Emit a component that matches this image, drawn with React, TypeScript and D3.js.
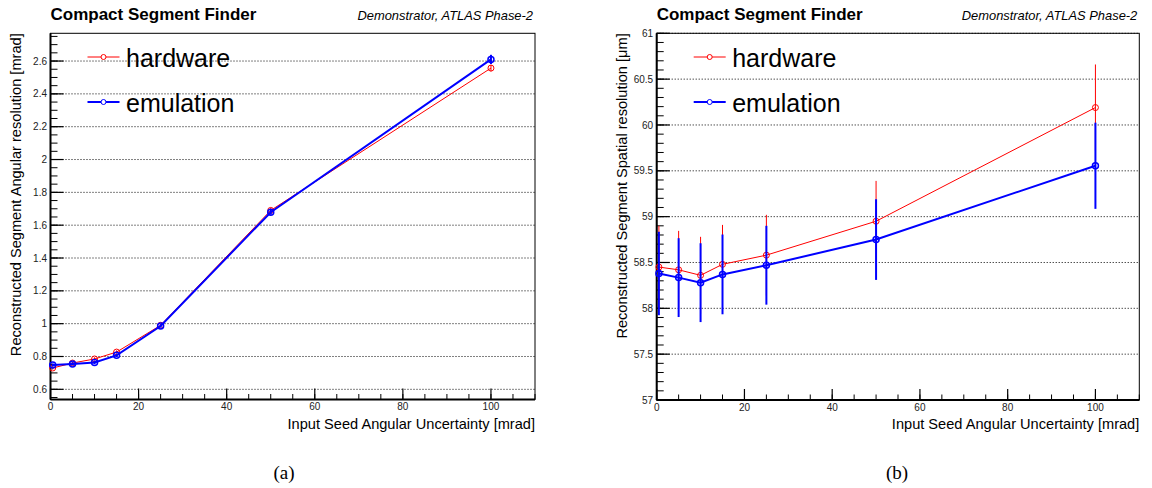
import React from "react";
import * as d3 from "d3";

// ---- data ----
const xValues = [0.5, 5, 10, 15, 25, 50, 100];

const angHardware = [0.73, 0.76, 0.785, 0.827, 0.99, 1.69, 2.557];
const angHardwareErr = [0.01, 0.01, 0.01, 0.01, 0.01, 0.015, 0.02];
const angEmulation = [0.748, 0.755, 0.763, 0.807, 0.986, 1.679, 2.61];
const angEmulationErr = [0.01, 0.01, 0.01, 0.01, 0.01, 0.015, 0.028];

const spaHardware = [58.45, 58.42, 58.36, 58.48, 58.58, 58.95, 60.19];
const spaHardwareErr = [0.45, 0.425, 0.42, 0.43, 0.44, 0.44, 0.47];
const spaEmulation = [58.38, 58.335, 58.28, 58.37, 58.47, 58.75, 59.555];
const spaEmulationErr = [0.455, 0.43, 0.43, 0.435, 0.43, 0.44, 0.47];

const xMajorTicks = [0, 20, 40, 60, 80, 100];
const angYTicks = [0.6, 0.8, 1, 1.2, 1.4, 1.6, 1.8, 2, 2.2, 2.4, 2.6];
const spaYTicks = [57, 57.5, 58, 58.5, 59, 59.5, 60, 60.5, 61];

const seriesNames = ["hardware", "emulation"];
const title = "Compact Segment Finder";
const subtitle = "Demonstrator, ATLAS Phase-2";
const xTitle = "Input Seed Angular Uncertainty [mrad]";
const angYTitle = "Reconstructed Segment Angular resolution [mrad]";
const spaYTitle = "Reconstructed Segment Spatial resolution [\u03bcm]";
const captions = ["(a)", "(b)"];

const FONT = "'Liberation Sans', Arial, Helvetica, sans-serif";

type PanelProps = {
  x0: number; x1: number; y0: number; y1: number;
  yDomain: [number, number];
  yTicks: number[];
  yMinorStep: number;
  yTitle: string;
  yTitleX: number;
  hw: number[]; hwErr: number[]; em: number[]; emErr: number[];
  caption: string; captionX: number;
};

function range(a: number, b: number, step: number) {
  const out: number[] = [];
  const n = Math.floor((b - a) / step + 1e-6);
  for (let i = 0; i <= n; i++) out.push(+(a + i * step).toFixed(6));
  return out;
}

function Panel(p: PanelProps) {
  const x = d3.scaleLinear().domain([0, 110]).range([p.x0, p.x1]);
  const y = d3.scaleLinear().domain(p.yDomain).range([p.y1, p.y0]);
  const line = d3.line<number>().x((_, i) => x(xValues[i])).y((d) => y(d));
  const xMinor = range(0, 110, 5);
  const yStart = Math.ceil(p.yDomain[0] / p.yMinorStep - 1e-6) * p.yMinorStep;
  const yMinor = range(yStart, p.yDomain[1], p.yMinorStep);
  const series = [
    { vals: p.hw, errs: p.hwErr, color: "#ff0000", w: 1, name: seriesNames[0] },
    { vals: p.em, errs: p.emErr, color: "#0000ff", w: 2, name: seriesNames[1] },
  ];
  const fmt = (v: number) => String(+v.toFixed(2));
  return (
    <g>
      <text x={p.x0} y={20} fontFamily={FONT} fontWeight="bold" fontSize={17}>{title}</text>
      <text x={p.x1 - 2} y={19.5} fontFamily={FONT} fontStyle="italic" fontSize={12.9} textAnchor="end">{subtitle}</text>
      {/* grid */}
      {p.yTicks.map((t) => (
        <line key={"g" + t} x1={p.x0} x2={p.x1} y1={y(t)} y2={y(t)} stroke="#000" strokeWidth={1} strokeDasharray="1,2" />
      ))}
      {/* minor y ticks */}
      {yMinor.map((t) => (
        <line key={"ym" + t} x1={p.x0} x2={p.x0 + 7} y1={y(t)} y2={y(t)} stroke="#000" strokeWidth={1} />
      ))}
      {p.yTicks.map((t) => (
        <g key={"yt" + t}>
          <line x1={p.x0} x2={p.x0 + 13} y1={y(t)} y2={y(t)} stroke="#000" strokeWidth={1.2} />
          <text x={p.x0 - 3.5} y={y(t) + 3.6} fontFamily={FONT} fontSize={10} textAnchor="end" fill="#222">{fmt(t)}</text>
        </g>
      ))}
      {xMinor.map((t) => (
        <line key={"xm" + t} x1={x(t)} x2={x(t)} y1={p.y1} y2={p.y1 - 5.5} stroke="#000" strokeWidth={1} />
      ))}
      {xMajorTicks.map((t) => (
        <g key={"xt" + t}>
          <line x1={x(t)} x2={x(t)} y1={p.y1} y2={p.y1 - 11} stroke="#000" strokeWidth={1.2} />
          <text x={x(t)} y={p.y1 + 10.8} fontFamily={FONT} fontSize={10} textAnchor="middle" fill="#222">{t}</text>
        </g>
      ))}
      {/* frame */}
      <rect x={p.x0} y={p.y0} width={p.x1 - p.x0} height={p.y1 - p.y0} fill="none" stroke="#000" strokeWidth={1} />
      <line x1={p.x0} x2={p.x0} y1={p.y0} y2={p.y1} stroke="#000" strokeWidth={2} />
      <line x1={p.x0} x2={p.x1} y1={p.y1} y2={p.y1} stroke="#000" strokeWidth={2} />
      {/* axis titles */}
      <text x={p.x1} y={428.5} fontFamily={FONT} fontSize={14.6} textAnchor="end">{xTitle}</text>
      <text transform={`translate(${p.yTitleX},${p.y0}) rotate(-90)`} fontFamily={FONT} fontSize={14.6} textAnchor="end">{p.yTitle}</text>
      {/* data */}
      {series.map((s) => (
        <g key={s.name}>
          {s.vals.map((v, i) => (
            <line key={"e" + i} x1={x(xValues[i])} x2={x(xValues[i])} y1={y(v - s.errs[i])} y2={y(v + s.errs[i])} stroke={s.color} strokeWidth={s.w} />
          ))}
          <path d={line(s.vals) || ""} fill="none" stroke={s.color} strokeWidth={s.w} />
          {s.vals.map((v, i) => (
            <circle key={"c" + i} cx={x(xValues[i])} cy={y(v)} r={3} fill="none" stroke={s.color} strokeWidth={s.w === 2 ? 1.5 : 1} />
          ))}
        </g>
      ))}
      {/* legend */}
      {series.map((s, i) => {
        const ly = 57 + i * 45;
        return (
          <g key={"l" + s.name}>
            <line x1={p.x0 + 37} x2={p.x0 + 69} y1={ly} y2={ly} stroke={s.color} strokeWidth={s.w} />
            <circle cx={p.x0 + 53} cy={ly} r={2.5} fill="#fff" stroke={s.color} strokeWidth={1} />
            <text x={p.x0 + 75.5} y={ly + 9.7} fontFamily={FONT} fontSize={25}>{s.name}</text>
          </g>
        );
      })}
      <text x={p.captionX} y={479} fontFamily="'Liberation Serif', 'Times New Roman', serif" fontSize={19} textAnchor="middle">{p.caption}</text>
    </g>
  );
}

export default function App() {
  return (
    <svg width={1152} height={488} style={{ position: "absolute", left: 0, top: 0, background: "#fff" }}>
      <rect x={0} y={0} width={1152} height={488} fill="#fff" />
      <Panel x0={50.5} x1={535} y0={33.3} y1={399.5} yDomain={[0.538, 2.769]} yTicks={angYTicks} yMinorStep={0.05}
        yTitle={angYTitle} yTitleX={20.5}
        hw={angHardware} hwErr={angHardwareErr} em={angEmulation} emErr={angEmulationErr}
        caption={captions[0]} captionX={284} />
      <Panel x0={656.7} x1={1139.3} y0={33.3} y1={400} yDomain={[57, 61]} yTicks={spaYTicks} yMinorStep={0.1}
        yTitle={spaYTitle} yTitleX={626.7}
        hw={spaHardware} hwErr={spaHardwareErr} em={spaEmulation} emErr={spaEmulationErr}
        caption={captions[1]} captionX={897} />
    </svg>
  );
}
